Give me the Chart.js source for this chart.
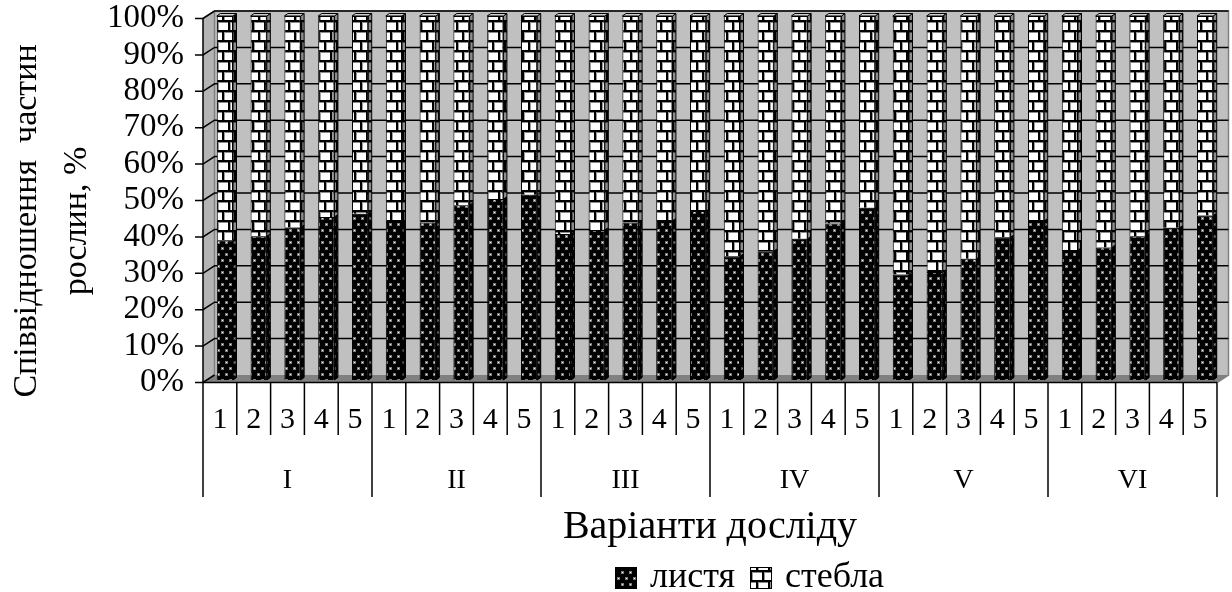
<!DOCTYPE html>
<html>
<head>
<meta charset="utf-8">
<script src="https://cdn.jsdelivr.net/npm/chart.js@4/dist/chart.umd.min.js"></script>
<style>
  html, body { margin: 0; padding: 0; background: #fff; }
  canvas { display: block; }
</style>
</head>
<body>
<canvas id="c" width="1232" height="592"></canvas>
<script>
// Experiment groups and variants inside each group
const groups = ['I', 'II', 'III', 'IV', 'V', 'VI'];
const variants = ['1', '2', '3', '4', '5'];

// Share of leaves and stems in plant mass, %
const leaves = [38.4, 39.5, 41.9, 44.8, 45.7,
                43.4, 43.3, 48.0, 49.7, 50.9,
                40.1, 41.2, 43.3, 43.7, 46.4,
                34.0, 35.4, 38.8, 43.0, 47.3,
                29.0, 29.7, 33.3, 39.2, 43.7,
                35.7, 36.4, 39.5, 41.8, 45.2];
const stems = [61.6, 60.5, 58.1, 55.2, 54.3,
               56.6, 56.7, 52.0, 50.3, 49.1,
               59.9, 58.8, 56.7, 56.3, 53.6,
               66.0, 64.6, 61.2, 57.0, 52.7,
               71.0, 70.3, 66.7, 60.8, 56.3,
               64.3, 63.6, 60.5, 58.2, 54.8];

const yTicks = [0, 10, 20, 30, 40, 50, 60, 70, 80, 90, 100];
const seriesNames = ['листя', 'стебла'];
const yTitle = ['Співвідношення  частин', 'рослин, %'];
const xTitle = 'Варіанти досліду';

const FONT = '"Liberation Serif", "Times New Roman", serif';

const canvas = document.getElementById('c');
const ctx = canvas.getContext('2d');

// Fill textures: black with light dots, white bricks
function dotPattern() {
  const t = document.createElement('canvas');
  t.width = 8; t.height = 12;
  const g = t.getContext('2d');
  g.fillStyle = '#000'; g.fillRect(0, 0, 8, 12);
  g.fillStyle = '#7a7a7a';
  g.fillRect(1, 1, 3, 3); g.fillRect(5, 7, 3, 3);
  g.fillStyle = '#f4f4f4';
  g.fillRect(2, 2, 1, 1); g.fillRect(6, 8, 1, 1);
  return ctx.createPattern(t, 'repeat');
}
function brickPattern() {
  const t = document.createElement('canvas');
  t.width = 12; t.height = 20;
  const g = t.getContext('2d');
  g.fillStyle = '#fff'; g.fillRect(0, 0, 12, 20);
  g.fillStyle = '#000';
  g.fillRect(0, 0, 12, 2); g.fillRect(0, 10, 12, 2);
  g.fillStyle = '#8a8a8a';
  g.fillRect(0, 2, 12, 1); g.fillRect(0, 12, 12, 1);
  g.fillStyle = '#000';
  g.fillRect(0, 2, 2, 8); g.fillRect(6, 12, 2, 8);
  g.fillStyle = '#9a9a9a';
  g.fillRect(2, 2, 1, 8); g.fillRect(8, 12, 1, 8);
  return ctx.createPattern(t, 'repeat');
}
const leafFill = dotPattern();
const stemFill = brickPattern();

const labels = [];
groups.forEach(g => variants.forEach(v => labels.push(v)));

// depth offsets of the 3D box relative to the bar face plane
const FRONT = { dx: -5, dy: 2.5 };
const BACK = { dx: 6.5, dy: -5 };
const SIDE = { dx: 3.5, dy: -2.5 };

const boxPlugin = {
  id: 'box3d',
  beforeDatasetsDraw(chart) {
    const c = chart.ctx;
    const x = chart.scales.x, y = chart.scales.y;
    const L = x.left, R = x.right;
    const y0 = y.getPixelForValue(0), y1 = y.getPixelForValue(100);
    c.save();
    // back wall
    c.fillStyle = '#c0c0c0';
    c.fillRect(L + BACK.dx, y1 + BACK.dy, R - L, y0 - y1);
    // left wall
    c.fillStyle = '#b4b4b4';
    c.beginPath();
    c.moveTo(L + FRONT.dx, y1 + FRONT.dy);
    c.lineTo(L + BACK.dx, y1 + BACK.dy);
    c.lineTo(L + BACK.dx, y0 + BACK.dy);
    c.lineTo(L + FRONT.dx, y0 + FRONT.dy);
    c.closePath(); c.fill();
    // floor
    c.fillStyle = '#808080';
    c.beginPath();
    c.moveTo(L + FRONT.dx, y0 + FRONT.dy);
    c.lineTo(L + BACK.dx, y0 + BACK.dy);
    c.lineTo(R + BACK.dx, y0 + BACK.dy);
    c.lineTo(R + FRONT.dx, y0 + FRONT.dy);
    c.closePath(); c.fill();
    // wall edges
    c.strokeStyle = '#808080'; c.lineWidth = 1.5;
    c.beginPath();
    c.moveTo(L + FRONT.dx, y1 + FRONT.dy);
    c.lineTo(L + BACK.dx, y1 + BACK.dy);
    c.lineTo(R + BACK.dx, y1 + BACK.dy);
    c.lineTo(R + BACK.dx, y0 + BACK.dy);
    c.lineTo(R + FRONT.dx, y0 + FRONT.dy);
    c.moveTo(L + BACK.dx, y1 + BACK.dy);
    c.lineTo(L + BACK.dx, y0 + BACK.dy);
    c.stroke();
    // gridlines on the left and back walls
    c.strokeStyle = '#000'; c.lineWidth = 1.5;
    yTicks.forEach(v => {
      const p = y.getPixelForValue(v);
      c.beginPath();
      c.moveTo(L + FRONT.dx - 8, p + FRONT.dy);
      c.lineTo(L + FRONT.dx, p + FRONT.dy);
      c.lineTo(L + BACK.dx, p + BACK.dy);
      if (v > 0) c.lineTo(R + BACK.dx, p + BACK.dy);
      c.stroke();
    });
    // front vertical axis
    c.beginPath();
    c.moveTo(L + FRONT.dx, y1 + FRONT.dy);
    c.lineTo(L + FRONT.dx, y0 + FRONT.dy);
    c.stroke();
    c.restore();
  },
  afterDatasetsDraw(chart) {
    const c = chart.ctx;
    c.save();
    c.lineWidth = 1; c.strokeStyle = '#000';
    chart.data.datasets.forEach((ds, di) => {
      const meta = chart.getDatasetMeta(di);
      meta.data.forEach(el => {
        const { x, y, base, width } = el.getProps(['x', 'y', 'base', 'width'], true);
        const r = x + width / 2, l = x - width / 2;
        // right side face
        c.beginPath();
        c.moveTo(r, y);
        c.lineTo(r + SIDE.dx, y + SIDE.dy);
        c.lineTo(r + SIDE.dx, base + SIDE.dy);
        c.lineTo(r, base);
        c.closePath();
        c.fillStyle = ds.backgroundColor; c.fill();
        c.fillStyle = 'rgba(0,0,0,0.45)'; c.fill();
        c.stroke();
        // top face of the upper segment
        if (di === chart.data.datasets.length - 1) {
          c.beginPath();
          c.moveTo(l, y);
          c.lineTo(l + SIDE.dx, y + SIDE.dy);
          c.lineTo(r + SIDE.dx, y + SIDE.dy);
          c.lineTo(r, y);
          c.closePath();
          c.fillStyle = '#d0d0d0'; c.fill(); c.stroke();
        }
      });
    });
    c.restore();
  },
  afterDraw(chart) {
    const c = chart.ctx;
    const x = chart.scales.x, y = chart.scales.y;
    const y0 = y.getPixelForValue(0) + FRONT.dy;
    c.save();
    c.strokeStyle = '#000'; c.lineWidth = 1.5;
    // front floor edge
    c.beginPath();
    c.moveTo(x.getPixelForValue(-0.5) + FRONT.dx, y0);
    c.lineTo(x.getPixelForValue(labels.length - 0.5) + FRONT.dx, y0);
    c.stroke();
    // category table separators
    for (let k = 0; k <= labels.length; k++) {
      const px = x.getPixelForValue(k - 0.5) + FRONT.dx;
      const long = k % variants.length === 0;
      c.beginPath();
      c.moveTo(px, y0);
      c.lineTo(px, long ? 497 : 435);
      c.stroke();
    }
    // group labels
    c.fillStyle = '#000';
    c.font = '28px ' + FONT;
    c.textAlign = 'center'; c.textBaseline = 'middle';
    groups.forEach((g, gi) => {
      const a = x.getPixelForValue(gi * variants.length - 0.5);
      const b = x.getPixelForValue((gi + 1) * variants.length - 0.5);
      c.fillText(g, (a + b) / 2 + FRONT.dx, 481);
    });
    // axis titles
    c.font = '40px ' + FONT;
    c.fillText(xTitle, (x.left + x.right) / 2 + FRONT.dx, 527);
    c.font = '34px ' + FONT;
    c.save();
    c.translate(27, 221);
    c.rotate(-Math.PI / 2);
    c.fillText(yTitle[0], 0, 0);
    c.restore();
    c.save();
    c.translate(77, 221);
    c.rotate(-Math.PI / 2);
    c.fillText(yTitle[1], 0, 0);
    c.restore();
    // legend
    c.font = '36px ' + FONT;
    c.textAlign = 'left';
    let lx = 615;
    const ly = 578;
    chart.data.datasets.forEach((ds, di) => {
      c.fillStyle = ds.backgroundColor;
      c.fillRect(lx, ly - 11, 22, 22);
      c.strokeStyle = '#000'; c.lineWidth = 1;
      c.strokeRect(lx + 0.5, ly - 10.5, 21, 21);
      c.fillStyle = '#000';
      c.fillText(ds.label, lx + 35, ly);
      lx += 35 + c.measureText(ds.label).width + 15;
    });
    c.restore();
  }
};

new Chart(ctx, {
  type: 'bar',
  data: {
    labels: labels,
    datasets: [
      { label: seriesNames[0], data: leaves, backgroundColor: leafFill,
        borderColor: '#000', borderWidth: 1 },
      { label: seriesNames[1], data: stems, backgroundColor: stemFill,
        borderColor: '#000', borderWidth: 1 }
    ]
  },
  options: {
    responsive: false,
    animation: false,
    devicePixelRatio: 1,
    layout: { padding: { top: 16, right: 10, bottom: 0, left: 0 } },
    plugins: { legend: { display: false }, tooltip: { enabled: false } },
    datasets: { bar: { barPercentage: 0.48, categoryPercentage: 1 } },
    scales: {
      x: {
        stacked: true,
        grid: { display: false },
        border: { display: false },
        ticks: {
          autoSkip: false, maxRotation: 0, labelOffset: FRONT.dx,
          padding: 14, color: '#000',
          font: { family: FONT, size: 30 }
        },
        afterFit: s => { s.height = 212; s.paddingLeft = 0; s.paddingRight = 0; }
      },
      y: {
        stacked: true, min: 0, max: 100,
        grid: { display: false },
        border: { display: false },
        ticks: {
          autoSkip: false, stepSize: 10, padding: 16, color: '#000', labelOffset: FRONT.dy,
          font: { family: FONT, size: 33 },
          callback: v => v + '%'
        },
        afterFit: s => { s.width = 208; s.paddingTop = 0; s.paddingBottom = 0; }
      }
    }
  },
  plugins: [boxPlugin]
});
</script>
</body>
</html>
